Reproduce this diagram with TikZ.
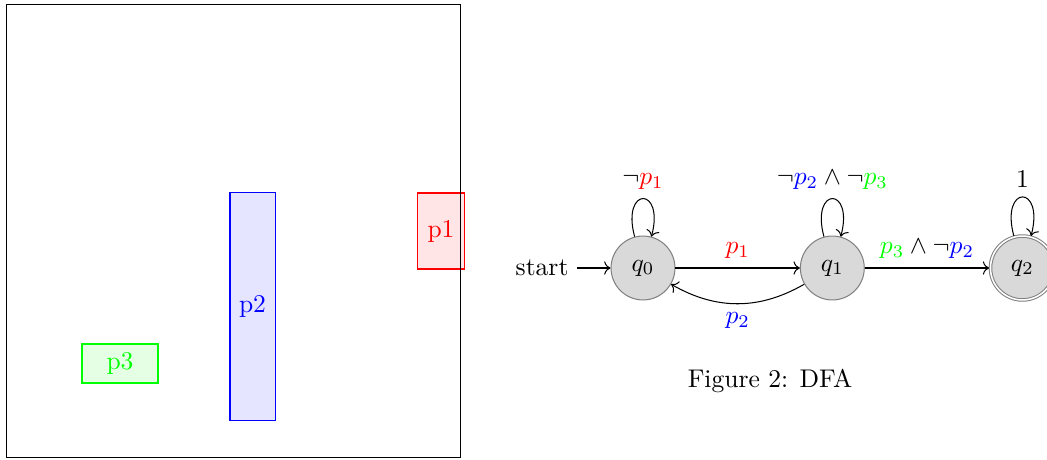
\documentclass[tikz,border=0pt]{standalone}
\usepackage{amsmath, amssymb}
\usetikzlibrary{automata, positioning, arrows.meta}

\tikzset{
  region/.style={draw, rectangle, inner sep=0pt},
  dfastate/.style={state, fill=gray!30, draw=gray, minimum size=25pt, inner sep=1pt}
}

\begin{document}
\begin{tikzpicture}[x=0.013754cm, y=-0.013754cm, node distance=1.71cm, initial text=start,
                    every loop/.style={min distance=6.5mm, looseness=8}]
\useasboundingbox (0,0) rectangle (1047,459);

% workspace
\node[region, draw=red, fill=red!10, text=red, minimum width=0.633cm, minimum height=1.045cm] (p1) at (441,231) {p1};
\node[region, draw=blue, fill=blue!10, text=blue, minimum width=0.619cm, minimum height=3.122cm] (p2) at (252.5,306.5) {p2};
\node[region, draw=green, fill=green!10, text=green, minimum width=1.045cm, minimum height=0.536cm] (p3) at (120,363.5) {p3};
\node[region, minimum width=6.23cm, minimum height=6.22cm] (world) at (233.5,231) {};

% automaton
\node[dfastate, initial] (q0) at (643,268) {$q_0$};
\node[dfastate, right=of q0] (q1) {$q_1$};
\node[dfastate, accepting, right=of q1] (q2) {$q_2$};

\path[->]
  (q0) edge node[above] {$\color{red}p_1$} (q1)
  (q1) edge[bend left] node[below] {$\color{blue}p_2$} (q0)
  (q1) edge node[above] {${\color{green}p_3}\wedge\neg{\color{blue}p_2}$} (q2)
  (q0) edge[loop above] node[above] {$\neg{\color{red}p_1}$} ()
  (q1) edge[loop above] node[above] {$\neg{\color{blue}p_2}\wedge\neg{\color{green}p_3}$} ()
  (q2) edge[loop above] node[above] {$1$} ();

\node (cap) at (770,381) {Figure 2: DFA};
\end{tikzpicture}
\end{document}
